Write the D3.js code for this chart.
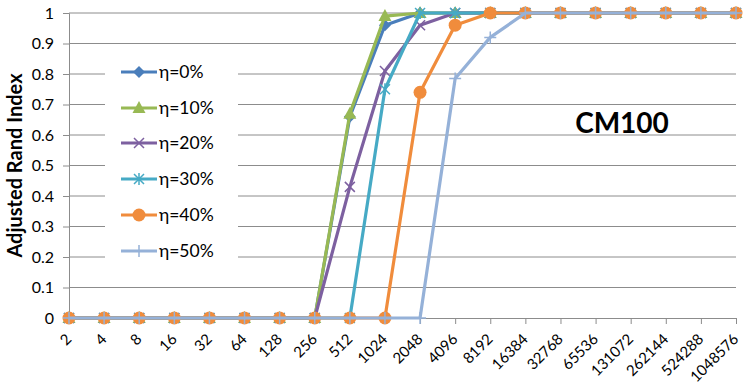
<!DOCTYPE html>
<html>
<head>
<meta charset="utf-8">
<script src="https://cdn.jsdelivr.net/npm/d3@7"></script>
<style>
  body { margin: 0; background: #fff; }
  text { font-family: Lato, "Open Sans", sans-serif; fill: #000; }
</style>
</head>
<body>
<div id="chart"></div>
<script>
// Categories (sample sizes)
const categories = ["2","4","8","16","32","64","128","256","512","1024","2048","4096",
  "8192","16384","32768","65536","131072","262144","524288","1048576"];
const yTicks = [0, 0.1, 0.2, 0.3, 0.4, 0.5, 0.6, 0.7, 0.8, 0.9, 1];

// Series values
const eta0  = [0,0,0,0,0,0,0,0,0.66,0.96,1,1,1,1,1,1,1,1,1,1];
const eta10 = [0,0,0,0,0,0,0,0,0.67,0.99,1,1,1,1,1,1,1,1,1,1];
const eta20 = [0,0,0,0,0,0,0,0,0.43,0.81,0.96,1,1,1,1,1,1,1,1,1];
const eta30 = [0,0,0,0,0,0,0,0,0,0.75,1,1,1,1,1,1,1,1,1,1];
const eta40 = [0,0,0,0,0,0,0,0,0,0,0.74,0.96,1,1,1,1,1,1,1,1];
const eta50 = [0,0,0,0,0,0,0,0,0,0,0,0.785,0.92,1,1,1,1,1,1,1];

const series = [
  {name: "η=0%",  values: eta0,  color: "#4a7ebb", marker: "diamond"},
  {name: "η=10%", values: eta10, color: "#98b954", marker: "triangle"},
  {name: "η=20%", values: eta20, color: "#7d60a0", marker: "x"},
  {name: "η=30%", values: eta30, color: "#46aac5", marker: "star"},
  {name: "η=40%", values: eta40, color: "#f08c3c", marker: "circle"},
  {name: "η=50%", values: eta50, color: "#95b1d8", marker: "plus"}
];

const width = 748, height = 387;
const margin = {top: 13, right: 12, bottom: 69, left: 69};

const svg = d3.select("#chart").append("svg")
  .attr("width", width)
  .attr("height", height);

const x = d3.scalePoint()
  .domain(categories)
  .range([margin.left, width - margin.right]);

const y = d3.scaleLinear()
  .domain([0, 1])
  .range([height - margin.bottom, margin.top]);

// Gridlines
svg.append("g")
  .selectAll("line")
  .data(yTicks.slice(1))
  .enter().append("line")
  .attr("x1", margin.left)
  .attr("x2", width - margin.right)
  .attr("y1", d => y(d))
  .attr("y2", d => y(d))
  .attr("stroke", "#8c8c8c")
  .attr("stroke-width", 1);

// Y axis
const yAxis = svg.append("g")
  .attr("transform", `translate(${margin.left},0)`)
  .call(d3.axisLeft(y).tickValues(yTicks).tickFormat(d3.format("")).tickSize(6).tickPadding(9));
yAxis.select(".domain").attr("stroke", "#8c8c8c");
yAxis.selectAll(".tick line").attr("stroke", "#8c8c8c");
yAxis.selectAll("text").style("font-size", "16px").style("font-family", "Lato, sans-serif");

// X axis
const xAxis = svg.append("g")
  .attr("transform", `translate(0,${y(0)})`)
  .call(d3.axisBottom(x).tickSize(6).tickSizeOuter(0));
xAxis.select(".domain").attr("stroke", "#8c8c8c");
xAxis.selectAll(".tick line").attr("stroke", "#8c8c8c");
xAxis.selectAll("text")
  .style("font-size", "15px")
  .style("font-family", "Lato, sans-serif")
  .attr("text-anchor", "end")
  .attr("dy", null)
  .attr("y", 0)
  .attr("transform", "translate(3,22) rotate(-45)");

// Y axis title
svg.append("text")
  .attr("transform", `translate(22,${(y(0) + y(1)) / 2}) rotate(-90)`)
  .attr("text-anchor", "middle")
  .style("font-size", "20px")
  .style("font-weight", "bold")
  .text("Adjusted Rand Index");

// Chart label
svg.append("text")
  .attr("x", 622)
  .attr("y", 133)
  .attr("text-anchor", "middle")
  .style("font-size", "28px")
  .style("font-weight", "bold")
  .text("CM100");

// Marker drawing
function drawMarker(g, type, color) {
  if (type === "diamond") {
    g.append("path").attr("d", "M0,-6L6,0L0,6L-6,0Z").attr("fill", color);
  } else if (type === "triangle") {
    g.append("path").attr("d", "M0,-7L6.5,5L-6.5,5Z").attr("fill", color);
  } else if (type === "circle") {
    g.append("circle").attr("r", 6.5).attr("fill", color);
  } else if (type === "x") {
    g.append("path").attr("d", "M-5,-5L5,5M-5,5L5,-5").attr("stroke", color).attr("stroke-width", 1.5);
  } else if (type === "star") {
    g.append("path").attr("d", "M-5,-5L5,5M-5,5L5,-5M0,-6L0,6").attr("stroke", color).attr("stroke-width", 1.5);
  } else if (type === "plus") {
    g.append("path").attr("d", "M-6,0L6,0M0,-6L0,6").attr("stroke", color).attr("stroke-width", 1.5);
  }
}

const line = d3.line()
  .x((d, i) => x(categories[i]))
  .y(d => y(d));

// Legend background (covers gridlines)
const legendYs = [72, 108, 143, 179, 215, 251];
svg.append("rect")
  .attr("x", 105)
  .attr("y", 55)
  .attr("width", 133)
  .attr("height", 214)
  .attr("fill", "#fff");

series.forEach(s => {
  const g = svg.append("g");
  g.append("path")
    .datum(s.values)
    .attr("d", line)
    .attr("fill", "none")
    .attr("stroke", s.color)
    .attr("stroke-width", 3.2)
    .attr("stroke-linejoin", "round");
  g.selectAll(".m")
    .data(s.values)
    .enter().append("g")
    .attr("transform", (d, i) => `translate(${x(categories[i])},${y(d)})`)
    .each(function() { drawMarker(d3.select(this), s.marker, s.color); });
});

// Legend
series.forEach((s, i) => {
  const ly = legendYs[i];
  const g = svg.append("g");
  g.append("line")
    .attr("x1", 121).attr("x2", 157)
    .attr("y1", ly).attr("y2", ly)
    .attr("stroke", s.color)
    .attr("stroke-width", 3.2);
  const m = g.append("g").attr("transform", `translate(139,${ly})`);
  drawMarker(m, s.marker, s.color);
  g.append("text")
    .attr("x", 159)
    .attr("y", ly + 6)
    .style("font-size", "17.5px")
    .text(s.name);
});
</script>
</body>
</html>
